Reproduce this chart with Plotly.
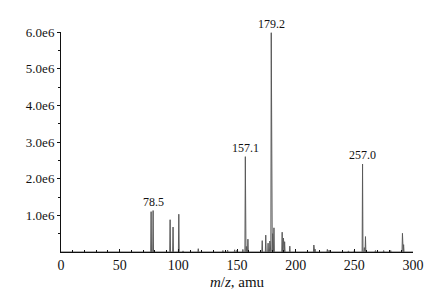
import plotly.graph_objects as go

# Peak centres (m/z) and intensities
peak_mz = [76.8, 78.5, 93.0, 95.5, 100.4, 104.0, 117.0, 138.0, 142.0, 148.0, 150.0,
           155.0, 157.1, 158.0, 159.3, 171.5, 174.5, 176.5, 178.0, 179.2, 180.4, 181.5,
           188.5, 189.6, 190.6, 195.0, 215.5, 216.5, 227.0, 228.5, 245.0, 250.0,
           257.0, 258.5, 259.5, 268.0, 275.0, 281.0, 291.0, 292.0]
peak_int = [1.10e6, 1.13e6, 0.88e6, 0.68e6, 1.03e6, 0.03e6, 0.09e6, 0.04e6, 0.05e6, 0.06e6, 0.05e6,
            0.07e6, 2.60e6, 0.15e6, 0.35e6, 0.31e6, 0.46e6, 0.24e6, 0.30e6, 5.98e6, 0.50e6, 0.66e6,
            0.54e6, 0.38e6, 0.28e6, 0.16e6, 0.19e6, 0.08e6, 0.07e6, 0.05e6, 0.03e6, 0.04e6,
            2.40e6, 0.12e6, 0.42e6, 0.04e6, 0.04e6, 0.04e6, 0.51e6, 0.20e6]

labels_mz = [78.5, 157.1, 179.2, 257.0]
labels_txt = ["78.5", "157.1", "179.2", "257.0"]

y_tickvals = [1e6, 2e6, 3e6, 4e6, 5e6, 6e6]
y_ticktext = ["1.0e6", "2.0e6", "3.0e6", "4.0e6", "5.0e6", "6.0e6"]
x_tickvals = [0, 50, 100, 150, 200, 250, 300]

# build a profile-like stick spectrum from peak list
xs, ys = [0.0], [0.0]
hw = 0.35
for m, h in sorted(zip(peak_mz, peak_int)):
    xs += [m - hw, m, m + hw]
    ys += [0.0, h, 0.0]
xs.append(300.0)
ys.append(0.0)

FONT = "Liberation Serif, Times New Roman, Times, serif"
fig = go.Figure()
fig.add_trace(go.Scatter(x=xs, y=ys, mode="lines",
                         line=dict(color="#5a5a5a", width=1), hoverinfo="skip",
                         showlegend=False))

lab_h = [dict(zip(peak_mz, peak_int))[m] for m in labels_mz]
for m, t, h in zip(labels_mz, labels_txt, lab_h):
    fig.add_annotation(x=m, y=h, text=t, showarrow=False, yanchor="bottom",
                       yshift=0, font=dict(family=FONT, size=12, color="#111"))

fig.update_layout(
    width=434, height=282,
    margin=dict(l=53, r=29, t=24, b=38, autoexpand=False),
    paper_bgcolor="white", plot_bgcolor="white",
    font=dict(family=FONT, size=13, color="#111"),
    xaxis=dict(range=[0, 300], tickvals=x_tickvals, showgrid=False, zeroline=False,
               showline=True, linecolor="#111", linewidth=1, automargin=False,
               ticks="inside", ticklen=3, tickcolor="#111",
               minor=dict(dtick=10, ticks="inside", ticklen=2, tickcolor="#111"),
               tickfont=dict(family=FONT, size=14),
               title=dict(text="<i>m</i>/<i>z</i>, amu", font=dict(family=FONT, size=15),
                          standoff=5)),
    yaxis=dict(range=[0, 6.0e6], tickvals=y_tickvals, ticktext=y_ticktext,
               showgrid=False, zeroline=False, showline=True, linecolor="#111",
               linewidth=1, ticks="outside", ticklen=3, tickcolor="#111", automargin=False,
               minor=dict(tickvals=[0.5e6, 1.5e6, 2.5e6, 3.5e6, 4.5e6, 5.5e6],
                          ticks="outside", ticklen=2, tickcolor="#111"),
               tickfont=dict(family=FONT, size=13)),
)
fig.write_html("out.html")
